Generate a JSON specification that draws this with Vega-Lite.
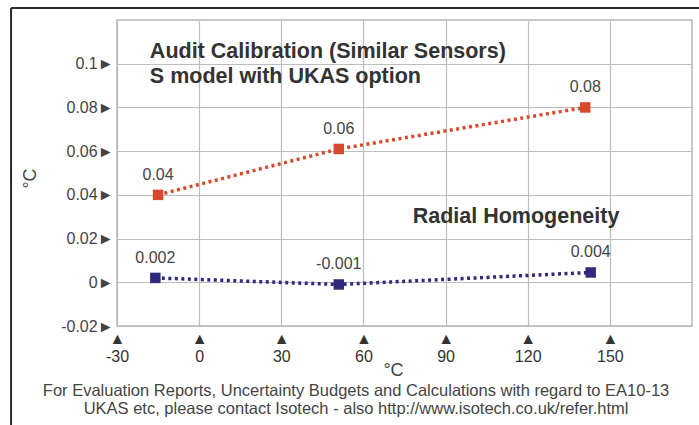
{
  "$schema": "https://vega.github.io/schema/vega-lite/v6.json",
  "width": 575,
  "height": 306,
  "autosize": {"type": "none"},
  "padding": {"left": 117, "top": 20, "right": 7, "bottom": 99},
  "background": "white",
  "config": {
    "view": {"stroke": "#b5b5b5", "strokeWidth": 1.5},
    "font": "Liberation Sans"
  },
  "datasets": {
    "series": [
      {"series": "Audit Calibration", "temp": -15, "value": 0.04, "label": "0.04"},
      {"series": "Audit Calibration", "temp": 51, "value": 0.061, "label": "0.06"},
      {"series": "Audit Calibration", "temp": 141, "value": 0.08, "label": "0.08"},
      {"series": "Radial Homogeneity", "temp": -16, "value": 0.002, "label": "0.002"},
      {"series": "Radial Homogeneity", "temp": 51, "value": -0.001, "label": "-0.001"},
      {"series": "Radial Homogeneity", "temp": 143, "value": 0.0045, "label": "0.004"}
    ],
    "notes": [
      {"text": "Audit Calibration (Similar Sensors)", "temp": -18, "value": 0.1054},
      {"text": "S model with UKAS option", "temp": -18, "value": 0.0939},
      {"text": "Radial Homogeneity", "temp": 78, "value": 0.03}
    ],
    "footer": [
      {"text": "For Evaluation Reports, Uncertainty Budgets and Calculations with regard to EA10-13", "temp": 57.3, "value": -0.0497},
      {"text": "UKAS etc, please contact Isotech - also http://www.isotech.co.uk/refer.html", "temp": 57.3, "value": -0.058}
    ],
    "frame": [
      {"left": -68.7, "right": 190, "top": 0.1255, "bottom": -0.08}
    ]
  },
  "layer": [
    {
      "data": {"name": "series"},
      "mark": {"type": "line", "strokeDash": [3, 3.5], "strokeWidth": 3.5},
      "encoding": {
        "x": {
          "field": "temp",
          "type": "quantitative",
          "scale": {"domain": [-30, 180], "nice": false, "zero": false},
          "axis": {
            "values": [-30, 0, 30, 60, 90, 120, 150],
            "labelExpr": "['▲', datum.value + '']",
            "labelFontSize": 16,
            "labelLineHeight": 18,
            "labelColor": "#333333",
            "labelPadding": 4,
            "labelFlush": false,
            "ticks": false,
            "domain": false,
            "grid": true,
            "gridColor": "#bdbdbd",
            "gridWidth": 1.2,
            "title": "°C",
            "titleFontSize": 18,
            "titleFontWeight": "normal",
            "titleColor": "#444444",
            "titleX": 276,
            "titleY": 44,
            "titleBaseline": "middle"
          }
        },
        "y": {
          "field": "value",
          "type": "quantitative",
          "scale": {"domain": [-0.02, 0.12], "nice": false, "zero": false},
          "axis": {
            "values": [-0.02, 0, 0.02, 0.04, 0.06, 0.08, 0.1],
            "labelExpr": "datum.value + '►'",
            "labelFontSize": 16,
            "labelColor": "#444444",
            "labelPadding": 4,
            "ticks": false,
            "domain": false,
            "grid": true,
            "gridColor": "#bdbdbd",
            "gridWidth": 1.2,
            "title": "°C",
            "titleFontSize": 18,
            "titleFontWeight": "normal",
            "titleColor": "#444444",
            "titleX": -87,
            "titleY": 158,
            "titleBaseline": "middle",
            "titleAlign": "center"
          }
        },
        "color": {
          "field": "series",
          "type": "nominal",
          "scale": {"domain": ["Audit Calibration", "Radial Homogeneity"], "range": ["#d8482c", "#2f2a7c"]},
          "legend": null
        }
      }
    },
    {
      "data": {"name": "series"},
      "mark": {"type": "square", "size": 110, "filled": true, "opacity": 1},
      "encoding": {
        "x": {"field": "temp", "type": "quantitative"},
        "y": {"field": "value", "type": "quantitative"},
        "color": {"field": "series", "type": "nominal", "legend": null}
      }
    },
    {
      "data": {"name": "series"},
      "mark": {"type": "text", "dy": -20, "fontSize": 16, "color": "#444444", "align": "center", "baseline": "middle"},
      "encoding": {
        "x": {"field": "temp", "type": "quantitative"},
        "y": {"field": "value", "type": "quantitative"},
        "text": {"field": "label", "type": "nominal"}
      }
    },
    {
      "data": {"name": "notes"},
      "mark": {"type": "text", "fontSize": 21.5, "fontWeight": "bold", "color": "#333333", "align": "left", "baseline": "middle"},
      "encoding": {
        "x": {"field": "temp", "type": "quantitative"},
        "y": {"field": "value", "type": "quantitative"},
        "text": {"field": "text", "type": "nominal"}
      }
    },
    {
      "data": {"name": "footer"},
      "mark": {"type": "text", "fontSize": 16.5, "color": "#444444", "align": "center", "baseline": "middle"},
      "encoding": {
        "x": {"field": "temp", "type": "quantitative"},
        "y": {"field": "value", "type": "quantitative"},
        "text": {"field": "text", "type": "nominal"}
      }
    },
    {
      "data": {"name": "frame"},
      "mark": {"type": "rule", "color": "#2a2a2a", "strokeWidth": 2},
      "encoding": {
        "x": {"field": "left", "type": "quantitative"},
        "y": {"field": "top", "type": "quantitative"},
        "y2": {"field": "bottom"}
      }
    },
    {
      "data": {"name": "frame"},
      "mark": {"type": "rule", "color": "#2a2a2a", "strokeWidth": 2},
      "encoding": {
        "x": {"field": "left", "type": "quantitative"},
        "x2": {"field": "right"},
        "y": {"field": "top", "type": "quantitative"}
      }
    }
  ]
}
